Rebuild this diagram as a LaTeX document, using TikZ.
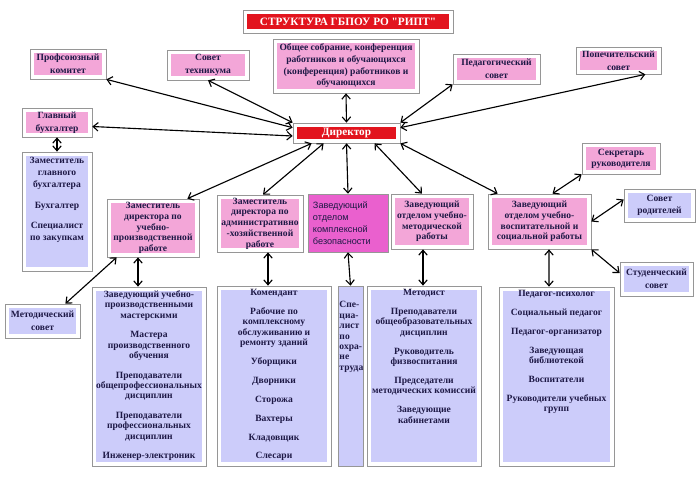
\documentclass[tikz,border=0pt]{standalone}
\usepackage{fontspec}
\setmainfont{Liberation Serif}
\newfontfamily\sansfont{Liberation Sans}
\newfontfamily\titelfont{Liberation Serif}[Ligatures=TeXOff]
\usetikzlibrary{arrows.meta}
\usetikzlibrary{calc}

\definecolor{rosa}{RGB}{243,166,216}
\definecolor{lila}{RGB}{204,204,250}
\definecolor{rot}{RGB}{226,20,30}
\definecolor{fuchsia}{RGB}{234,96,206}
\definecolor{rahmen}{RGB}{150,150,150}
\definecolor{tinte}{RGB}{30,25,70}

\newcommand{\spalte}[3]{\parbox[c][#2][t]{#1}{\centering #3}}

\begin{document}
\begin{tikzpicture}
[x=0.025cm,y=-0.025cm,
 frame/.style={draw=rahmen,fill=white,line width=0.5pt,inner sep=1pt,align=center,text=tinte,
   font=\fontsize{6.8}{9}\selectfont\bfseries,
   path picture={\fill[#1] ([xshift=3pt,yshift=3pt]path picture bounding box.south west) rectangle ([xshift=-3pt,yshift=-3pt]path picture bounding box.north east);}},
 frame/.default=rosa,
 liste/.style={frame=lila,inner sep=0pt,font=\fontsize{6.8}{7.4}\selectfont\bfseries},
 link/.style={<->,>={Straight Barb[length=3.5pt,width=6pt]},thick,black}]
\useasboundingbox (0,0) rectangle (700,495);

% top row
\node[frame=rot,minimum width=5.25cm,minimum height=0.575cm,text=white,font=\titelfont\fontsize{8}{9}\selectfont\bfseries] (titel) at (348,21.5) {СТРУКТУРА ГБПОУ РО "РИПТ"};
\node[frame,minimum width=1.9cm,minimum height=0.75cm] (pk) at (68,64) {Профсоюзный\\комитет};
\node[frame,minimum width=2.05cm,minimum height=0.75cm] (st) at (208,65) {Совет\\техникума};
\node[frame,minimum width=3.65cm,minimum height=1.35cm,font=\fontsize{6.8}{8.3}\selectfont\bfseries] (os) at (346,66) {Общее собрание, конференция\\работников и обучающихся\\(конференция) работников и\\обучающихся};
\node[frame,minimum width=2.175cm,minimum height=0.75cm] (ps) at (496.5,69) {Педагогический\\совет};
\node[frame,minimum width=2.125cm,minimum height=0.675cm] (pops) at (618.5,60.5) {Попечительский\\совет};
\node[frame,minimum width=1.75cm,minimum height=0.725cm] (gb) at (57,122.5) {Главный\\бухгалтер};
\node[frame=rot,minimum width=2.675cm,minimum height=0.5cm,text=white,font=\fontsize{8}{9}\selectfont\bfseries] (dir) at (346.5,133) {Директор};

% middle row
\node[liste,minimum width=1.75cm,minimum height=2.975cm,font=\fontsize{6.8}{8.5}\selectfont\bfseries] (buh) at (57,211.5) {\spalte{1.6cm}{2.775cm}{\vspace*{1pt}Заместитель\\главного\\бухгалтера\\[6pt]Бухгалтер\\[6pt]Специалист\\по закупкам}};
\node[frame,minimum width=2.3cm,minimum height=1.45cm,font=\fontsize{6.8}{7.6}\selectfont\bfseries] (zupr) at (153,228) {Заместитель\\директора по\\учебно-\\производственной\\работе};
\node[frame,minimum width=2.15cm,minimum height=1.425cm,font=\fontsize{6.8}{7.6}\selectfont\bfseries] (zahr) at (260,223.5) {Заместитель\\директора по\\административно\\-хозяйственной\\работе};
\node[draw=rahmen,fill=fuchsia,minimum width=2.0cm,minimum height=1.45cm,text width=1.75cm,align=left,text=tinte,font=\sansfont\fontsize{6.5}{8.5}\selectfont] (kb) at (348,223) {Заведующий\\отделом\\комплексной\\безопасности};
\node[frame,minimum width=2.05cm,minimum height=1.375cm,font=\fontsize{6.8}{7.6}\selectfont\bfseries] (umr) at (432,221.5) {Заведующий\\отделом учебно-\\методической\\работы};
\node[frame,minimum width=2.575cm,minimum height=1.375cm,font=\fontsize{6.8}{7.6}\selectfont\bfseries] (uvr) at (539.5,221.5) {Заведующий\\отделом учебно-\\воспитательной и\\социальной работы};
\node[frame,minimum width=1.95cm,minimum height=0.775cm,font=\fontsize{6.8}{8}\selectfont\bfseries] (sekr) at (621,158.5) {Секретарь\\руководителя};
\node[frame=lila,minimum width=1.775cm,minimum height=0.825cm] (srod) at (659.5,205.5) {Совет\\родителей};
\node[frame=lila,minimum width=1.825cm,minimum height=0.85cm] (stud) at (656.5,279) {Студенческий\\совет};
\node[frame=lila,minimum width=1.875cm,minimum height=0.85cm] (mets) at (42.5,321) {Методический\\совет};

% bottom row
\node[liste,minimum width=2.85cm,minimum height=4.475cm] (lupr) at (149,376.5) {\spalte{2.75cm}{4.3cm}{Заведующий учебно-\\производственными\\мастерскими\\[6.5pt]Мастера\\производственного\\обучения\\[6.5pt]Преподаватели\\общепрофессиональных\\дисциплин\\[6.5pt]Преподаватели\\профессиональных\\дисциплин\\[6.5pt]Инженер-электроник}};
\node[liste,minimum width=2.85cm,minimum height=4.5cm] (lahr) at (274,376) {\spalte{2.75cm}{4.325cm}{Комендант\\[6pt]Рабочие по\\комплексному\\обслуживанию и\\ремонту зданий\\[6pt]Уборщики\\[6pt]Дворники\\[6pt]Сторожа\\[6pt]Вахтеры\\[6pt]Кладовщик\\[6pt]Слесари}};
\node[draw=rahmen,fill=lila,minimum width=0.625cm,minimum height=4.5cm,inner sep=0pt,text=tinte,font=\fontsize{6.8}{7.4}\selectfont\bfseries] (ot) at (350.5,376) {\parbox[c][4.4cm][t]{0.55cm}{\vspace*{9pt}\begin{tabular}{@{}l@{}}Спе-\\циа-\\лист\\по\\охра-\\не\\труда\end{tabular}}};
\node[liste,minimum width=2.85cm,minimum height=4.5cm] (lumr) at (424,376) {\spalte{2.75cm}{4.325cm}{Методист\\[6pt]Преподаватели\\общеобразовательных\\дисциплин\\[6pt]Руководитель\\физвоспитания\\[6pt]Председатели\\методических комиссий\\[6pt]Заведующие\\кабинетами}};
\node[liste,minimum width=2.875cm,minimum height=4.475cm] (luvr) at (556.5,376.5) {\spalte{2.75cm}{4.3cm}{Педагог-психолог\\[6pt]Социальный педагог\\[6pt]Педагог-организатор\\[6pt]Заведующая\\библиотекой\\[6pt]Воспитатели\\[6pt]Руководители учебных\\групп}};

% connectors
\draw[link] (pk.south east) -- ($(dir.north west)+(0,5)$);
\draw[link] (st.south) -- (dir.north west);
\draw[link] ($(gb.east)+(0,4)$) -- ($(dir.west)+(0,3)$);
\draw[link] (os.south) -- (dir.north);
\draw[link] (ps.south west) -- (dir.north east);
\draw[link] ($(pops.south east)+(-16,0)$) -- ($(dir.north east)+(0,5)$);
\draw[link] (gb.south) -- (buh.north);
\draw[link] ($(dir.south west)+(19,0)$) -- ($(zupr.north east)+(-12,0)$);
\draw[link] ($(dir.south west)+(31,0)$) -- ($(zahr.north)+(3,0)$);
\draw[link] (dir.south) -- (kb.north);
\draw[link] ($(dir.south)+(28,0)$) -- ($(umr.north)+(-10,0)$);
\draw[link] (dir.south east) -- ($(uvr.north west)+(10,0)$);
\draw[link] (sekr.south west) -- ($(uvr.north)+(13,0)$);
\draw[link] ($(srod.west)+(0,-6)$) -- (uvr.east);
\draw[link] (uvr.south east) -- ($(stud.west)+(0,-6)$);
\draw[link] ($(zupr.south west)+(10,0)$) -- ($(mets.north east)+(-15,0)$);
\draw[link] ($(zupr.south)+(-15,0)$) -- ($(lupr.north)+(-11,0)$);
\draw[link] ($(zahr.south)+(8,0)$) -- ($(lahr.north)+(-6,0)$);
\draw[link] (kb.south) -- (ot.north);
\draw[link] ($(umr.south)+(-9,0)$) -- ($(lumr.north)+(-1,0)$);
\draw[link] ($(uvr.south)+(9.5,0)$) -- ($(luvr.north)+(-7.5,0)$);
\end{tikzpicture}
\end{document}
